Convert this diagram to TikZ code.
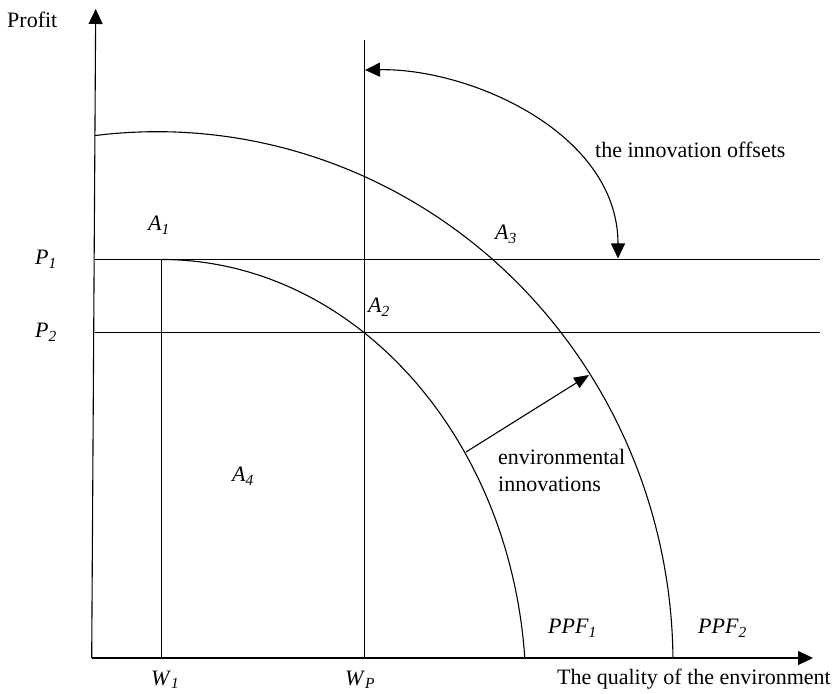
\documentclass[tikz,border=0pt]{standalone}
\usepackage{fontspec}
\setmainfont{Liberation Serif}
\usetikzlibrary{arrows.meta}
\newcommand\lbl[2]{\textit{#1}\textsubscript{\textit{#2}}}
\begin{document}
\begin{tikzpicture}[x=1pt,y=1pt,
  ln/.style={line width=1.1pt},
  tipend/.style={-{Triangle[length=15pt,width=14pt]}},
  txt/.style={font=\fontsize{22}{26}\selectfont, inner sep=0pt},
]
\useasboundingbox (0,0) rectangle (832,693);
% key points
\coordinate (O) at (91.7,35);
\coordinate (Ytop) at (95.7,684);
\coordinate (Xtip) at (813,35);
\coordinate (P1l) at (95,433.5);
\coordinate (P1r) at (820,433.5);
\coordinate (P2l) at (94.5,360.5);
\coordinate (P2r) at (820,360.5);
\coordinate (W1b) at (161.5,35);
\coordinate (W1t) at (161.5,433.5);
\coordinate (WPb) at (364.5,35);
\coordinate (WPt) at (364.5,653);
\coordinate (offA) at (365,623);
\coordinate (offB) at (618,434.5);
\coordinate (envA) at (466,241);
\coordinate (envB) at (589,318);
% axes
\draw[ln,tipend] (O) -- (Ytop);
\draw[ln,tipend] (O) -- (Xtip);
% grid lines
\draw[ln] (P1l) -- (P1r);
\draw[ln] (P2l) -- (P2r);
\draw[ln] (W1b) -- (W1t);
\draw[ln] (WPb) -- (WPt);
% PPF1
\draw[ln] (W1t) arc[start angle=90, end angle=4.63, x radius=364.5, y radius=433.5];
% PPF2
\draw[ln] (157,30) ++(96.93:516 and 531.3) arc[start angle=96.93, end angle=0.54, x radius=516, y radius=531.3];
% innovation offsets arrow
\draw[ln,{Triangle[length=15pt,width=14pt]}-{Triangle[length=15pt,width=14pt]}] (offA) .. controls (470,625) and (618,560) .. (offB);
% environmental innovations arrow
\draw[ln,-{Triangle[length=15pt,width=12pt]}] (envA) -- (envB);
% labels
\node[txt,anchor=base west] (profit) at (7,665) {Profit};
\node[txt,anchor=base west] (p1) at (35,428) {\lbl{P}{1}};
\node[txt,anchor=base west] (p2) at (35,355) {\lbl{P}{2}};
\node[txt,anchor=base west] (a1) at (148,462) {\lbl{A}{1}};
\node[txt,anchor=base west] (a2) at (368,380) {\lbl{A}{2}};
\node[txt,anchor=base west] (a3) at (495,453) {\lbl{A}{3}};
\node[txt,anchor=base west] (a4) at (232,211) {\lbl{A}{4}};
\node[txt,anchor=base west] (ppf1) at (548,59) {\lbl{PPF}{1}};
\node[txt,anchor=base west] (ppf2) at (698,59) {\lbl{PPF}{2}};
\node[txt,anchor=base west] (w1) at (151,8) {\lbl{W}{1}};
\node[txt,anchor=base west] (wp) at (345,8) {\lbl{W}{P}};
\node[txt,anchor=base east] (xlab) at (831,9) {The quality of the environment};
\node[txt,anchor=base west] (offlab) at (595,535) {the innovation offsets};
\node[txt,anchor=base west] (envlab1) at (498,228) {environmental};
\node[txt,anchor=base west] (envlab2) at (498,201) {innovations};
\end{tikzpicture}
\end{document}
